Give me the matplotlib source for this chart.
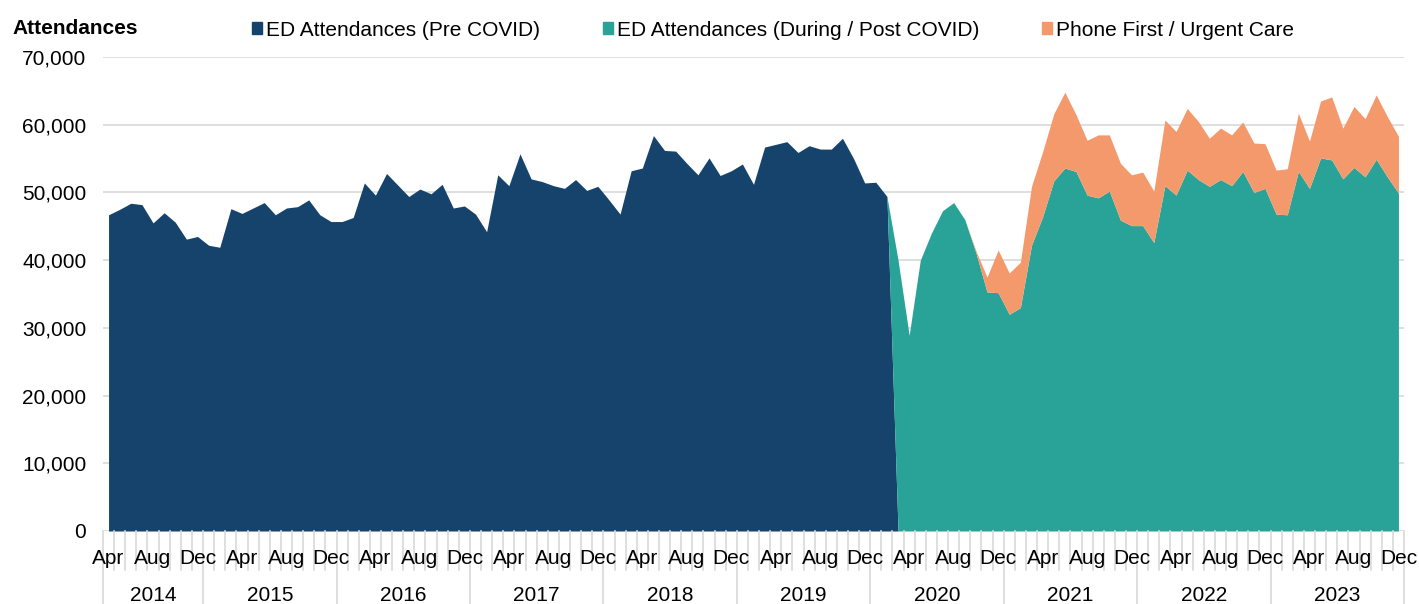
import matplotlib.pyplot as plt
import matplotlib.transforms as mtransforms
import numpy as np
from matplotlib.patches import Patch
from matplotlib.ticker import FuncFormatter

plt.rcParams['font.family'] = ['Liberation Sans', 'DejaVu Sans']

month_names = ['Jan', 'Feb', 'Mar', 'Apr', 'May', 'Jun',
               'Jul', 'Aug', 'Sep', 'Oct', 'Nov', 'Dec']
# categories: Apr 2014 .. Dec 2023
months = [(2014, m) for m in range(4, 13)] + \
         [(y, m) for y in range(2015, 2024) for m in range(1, 13)]

# Apr 2014 - Mar 2020
pre_covid = [
    46700, 47500, 48400, 48200, 45500, 47000, 45600, 43100, 43500, 42200, 41900, 47600,
    46900, 47700, 48500, 46700, 47700, 47900, 48900, 46700, 45700, 45700, 46300, 51400,
    49600, 52800, 51100, 49400, 50500, 49800, 51200, 47700, 48000, 46800, 44200, 52600,
    51000, 55700, 52000, 51600, 51000, 50600, 51900, 50300, 50900, 48900, 46800, 53200,
    53600, 58400, 56200, 56100, 54300, 52600, 55100, 52500, 53200, 54200, 51200, 56700,
    57100, 57500, 55900, 56900, 56400, 56400, 58000, 55000, 51400, 51500, 49400, 0,
]
# Mar 2020 - Dec 2023
during_covid = [
    40000, 28900, 40000, 44000, 47300, 48500, 46000, 41100, 35300, 35200, 32000, 33000,
    42200, 46400, 51700, 53600, 53100, 49600, 49200, 50200, 45900, 45100, 45100, 42600,
    51000, 49600, 53300, 51900, 50900, 51900, 51000, 53100, 50000, 50600, 46800, 46700,
    53100, 50600, 55100, 54800, 52000, 53700, 52300, 54900, 52300, 49900,
]
# Oct 2020 - Dec 2023
phone_first = [
    300, 2200, 6300, 6100, 6700,
    8700, 9600, 9900, 11200, 8400, 8100, 9300, 8300, 8400, 7500, 7900, 7600,
    9700, 9400, 9100, 8600, 7100, 7600, 7500, 7300, 7300, 6600, 6500, 6800,
    8600, 7000, 8400, 9300, 7500, 9000, 8600, 9500, 8900, 8400,
]

navy = '#15436B'
teal = '#29A397'
orange = '#F4996B'
grey = '#d9d9d9'

n = len(months)
x = np.arange(n)
pre = np.zeros(n)
pre[:len(pre_covid)] = pre_covid
during = np.zeros(n)
during[n - len(during_covid):] = during_covid
phone = np.zeros(n)
phone[n - len(phone_first):] = phone_first

fig = plt.figure(figsize=(14.19, 6.04), dpi=100)
ax = fig.add_axes([103 / 1419, 1 - 531 / 604, 1301 / 1419, 474 / 604])

d0 = n - len(during_covid) - 1
p0 = n - len(phone_first) - 1
ax.fill_between(x[:len(pre_covid)], 0, pre[:len(pre_covid)], color=navy, lw=0)
ax.fill_between(x[d0:], pre[d0:], (pre + during)[d0:], color=teal, lw=0)
ax.fill_between(x[p0:], (pre + during)[p0:], (pre + during + phone)[p0:],
                color=orange, lw=0)

ax.set_xlim(-0.5, n - 0.5)
ax.set_ylim(0, 70000)
ax.set_yticks(range(0, 70001, 10000))
ax.yaxis.set_major_formatter(FuncFormatter(lambda v, p: f'{int(v):,}'))
ax.grid(axis='y', color=grey, lw=1.2)
ax.set_axisbelow(True)
for s in ax.spines.values():
    s.set_visible(False)
ax.tick_params(axis='y', length=0, pad=12, labelsize=15)
ax.set_xticks([])

trans = mtransforms.blended_transform_factory(ax.transData, ax.transAxes)
bottom = -73 / 474

# month labels every 4th month
for i, (yr, m) in enumerate(months):
    if i % 4 == 0:
        ax.text(i, -33 / 474, month_names[m - 1], transform=trans,
                ha='center', va='baseline', fontsize=15)

# tick lines between months, longer ones between years
for i in range(n + 1):
    new_year = i == 0 or i == n or months[i][0] != months[i - 1][0]
    ax.plot([i - 0.5, i - 0.5], [0, bottom if new_year else -39 / 474],
            transform=trans, color=grey, lw=1.2, clip_on=False)

years = sorted(set(y for y, m in months))
for yr in years:
    idx = [i for i, (y, m) in enumerate(months) if y == yr]
    ax.text((idx[0] + idx[-1]) / 2, -70 / 474, str(yr), transform=trans,
            ha='center', va='baseline', fontsize=15)

fig.text(12 / 1419, 1 - 33.5 / 604, 'Attendances', fontsize=15,
         fontweight='bold', va='baseline')

handles = [Patch(color=navy), Patch(color=teal), Patch(color=orange)]
labels = ['ED Attendances (Pre COVID)', 'ED Attendances (During / Post COVID)',
          'Phone First / Urgent Care']
fig.legend(handles, labels, loc='center left', bbox_to_anchor=(252 / 1419, 1 - 30 / 604),
           ncol=3, frameon=False, fontsize=15, handlelength=0.48, handleheight=0.48,
           handletextpad=0.2, columnspacing=3.0, borderpad=0, borderaxespad=0)

fig.savefig('out.png', dpi=100)
